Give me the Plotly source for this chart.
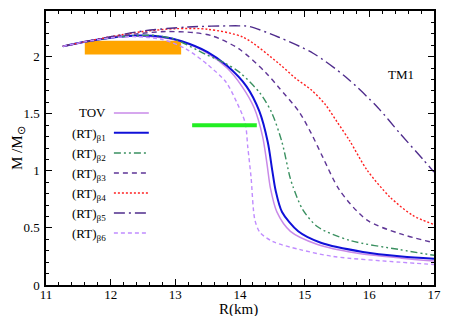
import plotly.graph_objects as go

# ---- data ----
R_tov = [11.26, 11.6, 12.0, 12.4, 12.8, 13.1, 13.5, 13.8, 14.03, 14.22, 14.35, 14.42, 14.47, 14.57, 14.78, 15.2, 15.8, 16.5, 17.0]
M_tov = [2.09, 2.13, 2.165, 2.18, 2.165, 2.13, 2.03, 1.9, 1.74, 1.55, 1.3, 1.05, 0.85, 0.64, 0.47, 0.355, 0.28, 0.235, 0.21]

R_b1 = [11.26, 11.6, 12.0, 12.4, 12.8, 13.1, 13.5, 13.8, 14.1, 14.3, 14.43, 14.5, 14.55, 14.65, 14.9, 15.25, 15.9, 16.5, 17.0]
M_b1 = [2.09, 2.13, 2.165, 2.185, 2.175, 2.135, 2.04, 1.92, 1.74, 1.52, 1.25, 1.0, 0.83, 0.64, 0.47, 0.37, 0.29, 0.25, 0.23]

R_b2 = [11.26, 11.6, 12.0, 12.4, 12.7, 13.0, 13.47, 13.78, 14.0, 14.31, 14.49, 14.65, 14.77, 14.82, 14.97, 15.2, 15.7, 16.47, 17.0]
M_b2 = [2.09, 2.13, 2.165, 2.185, 2.185, 2.15, 2.02, 1.94, 1.86, 1.68, 1.51, 1.25, 0.95, 0.86, 0.66, 0.51, 0.39, 0.31, 0.26]

R_b3 = [11.26, 11.6, 12.0, 12.4, 12.85, 13.3, 13.58, 13.98, 14.4, 14.6, 14.91, 15.1, 15.28, 15.54, 15.96, 16.47, 17.0]
M_b3 = [2.09, 2.13, 2.17, 2.2, 2.22, 2.21, 2.18, 2.07, 1.86, 1.73, 1.52, 1.33, 1.12, 0.83, 0.57, 0.45, 0.37]

R_b4 = [11.26, 11.6, 12.0, 12.5, 13.0, 13.5, 14.05, 14.6, 14.86, 15.1, 15.32, 15.5, 15.7, 15.96, 16.32, 16.67, 17.0]
M_b4 = [2.09, 2.13, 2.175, 2.22, 2.245, 2.24, 2.17, 1.94, 1.81, 1.71, 1.58, 1.43, 1.26, 1.01, 0.77, 0.61, 0.53]

R_b5 = [11.26, 11.6, 12.0, 12.5, 13.2, 13.98, 14.14, 14.6, 15.13, 15.64, 16.13, 16.47, 16.83, 17.0]
M_b5 = [2.09, 2.13, 2.175, 2.225, 2.26, 2.27, 2.265, 2.17, 2.03, 1.82, 1.555, 1.33, 1.1, 0.99]

R_b6 = [11.26, 11.6, 12.0, 12.4, 12.8, 13.16, 13.5, 13.78, 13.95, 14.08, 14.12, 14.17, 14.23, 14.31, 14.51, 14.93, 15.44, 16.47, 17.0]
M_b6 = [2.09, 2.13, 2.165, 2.175, 2.15, 2.07, 1.93, 1.78, 1.6, 1.42, 1.21, 0.95, 0.57, 0.46, 0.38, 0.31, 0.25, 0.2, 0.18]

# observational constraints
orange_R = [11.6, 13.09]
orange_M = [2.02, 2.14]
green_R = [13.26, 14.26]
green_M = 1.40

labels = ["TOV", "(RT)<sub>β1</sub>", "(RT)<sub>β2</sub>", "(RT)<sub>β3</sub>",
          "(RT)<sub>β4</sub>", "(RT)<sub>β5</sub>", "(RT)<sub>β6</sub>"]

x_ticks = [11, 12, 13, 14, 15, 16, 17]
y_ticks = [0, 0.5, 1, 1.5, 2]
y_ticktext = ["0", "0.5", "1", "1.5", "2"]

styles = [
    dict(color="#c98ae8", width=1.5, dash="solid"),
    dict(color="#1010d8", width=2.0, dash="solid"),
    dict(color="#3a9060", width=1.4, dash="7px,3px,2px,3px,2px,3px"),
    dict(color="#5e3596", width=1.4, dash="5px,4px"),
    dict(color="#ff2020", width=1.4, dash="2px,2px"),
    dict(color="#4f2c8c", width=1.4, dash="11px,4px,2px,4px"),
    dict(color="#c08cff", width=1.4, dash="4px,3px"),
]

series = [(R_tov, M_tov), (R_b1, M_b1), (R_b2, M_b2), (R_b3, M_b3),
          (R_b4, M_b4), (R_b5, M_b5), (R_b6, M_b6)]

FONT = "Liberation Serif"

fig = go.Figure()

# orange band (behind curves)
fig.add_shape(type="rect", x0=orange_R[0], x1=orange_R[1], y0=orange_M[0], y1=orange_M[1],
              xref="x", yref="y", fillcolor="#ffa500", line=dict(width=0), layer="below")

for (r, m), st in zip(series, styles):
    fig.add_trace(go.Scatter(x=r, y=m, mode="lines",
                             line=dict(color=st["color"], width=st["width"], dash=st["dash"],
                                       shape="spline", smoothing=0.8),
                             showlegend=False, hoverinfo="skip"))

fig.add_trace(go.Scatter(x=green_R, y=[green_M, green_M], mode="lines",
                         line=dict(color="#22ee22", width=4), showlegend=False))

# manual legend (text right-aligned, sample on the right)
row_y = [0.628, 0.556, 0.482, 0.409, 0.336, 0.263, 0.190]
for lab, st, yy in zip(labels, styles, row_y):
    fig.add_annotation(x=0.160, y=yy, xref="paper", yref="paper", text=lab,
                       showarrow=False, xanchor="right", yanchor="middle",
                       yshift=-2 if "sub" in lab else 0,
                       font=dict(family=FONT, size=13, color="black"))
    fig.add_shape(type="line", x0=0.175, x1=0.265, y0=yy, y1=yy, xref="paper", yref="paper",
                  line=dict(color=st["color"], width=st["width"], dash=st["dash"]))

fig.add_annotation(x=0.915, y=0.77, xref="paper", yref="paper", text="TM1", showarrow=False,
                   xanchor="center", yanchor="middle",
                   font=dict(family=FONT, size=13, color="black"))

# axis titles as annotations for exact placement
fig.add_annotation(x=0.496, y=-0.089, xref="paper", yref="paper", text="R(km)", showarrow=False,
                   xanchor="center", yanchor="middle", font=dict(family=FONT, size=15, color="black"))
fig.add_annotation(x=-0.072, y=0.50, xref="paper", yref="paper", text="M /M<sub>⊙</sub>",
                   showarrow=False, textangle=-90, xanchor="center", yanchor="middle",
                   font=dict(family=FONT, size=15, color="black"))

# the page body has an 8px margin, so the figure is sized to fit the 452x316 window
fig.update_layout(
    width=444, height=308,
    margin=dict(l=38, r=18, t=3, b=31, autoexpand=False),
    paper_bgcolor="white", plot_bgcolor="white",
    font=dict(family=FONT, size=13, color="black"),
)
fig.update_xaxes(range=[11, 17], tickvals=x_ticks, ticks="inside", ticklen=6, tickcolor="black",
                 ticklabelstandoff=-3,
                 showline=True, linecolor="black", linewidth=1.5, mirror="ticks",
                 showgrid=False, zeroline=False, automargin=False,
                 minor=dict(ticks="inside", dtick=0.2, ticklen=3, tickcolor="black"))
fig.update_yaxes(range=[0, 2.4], tickvals=y_ticks, ticktext=y_ticktext,
                 ticks="inside", ticklen=6, tickcolor="black", ticklabelstandoff=2,
                 showline=True, linecolor="black", linewidth=1.5, mirror="ticks",
                 showgrid=False, zeroline=False, automargin=False,
                 minor=dict(ticks="inside", dtick=0.1, ticklen=3, tickcolor="black"))

fig.write_html("out.html")
